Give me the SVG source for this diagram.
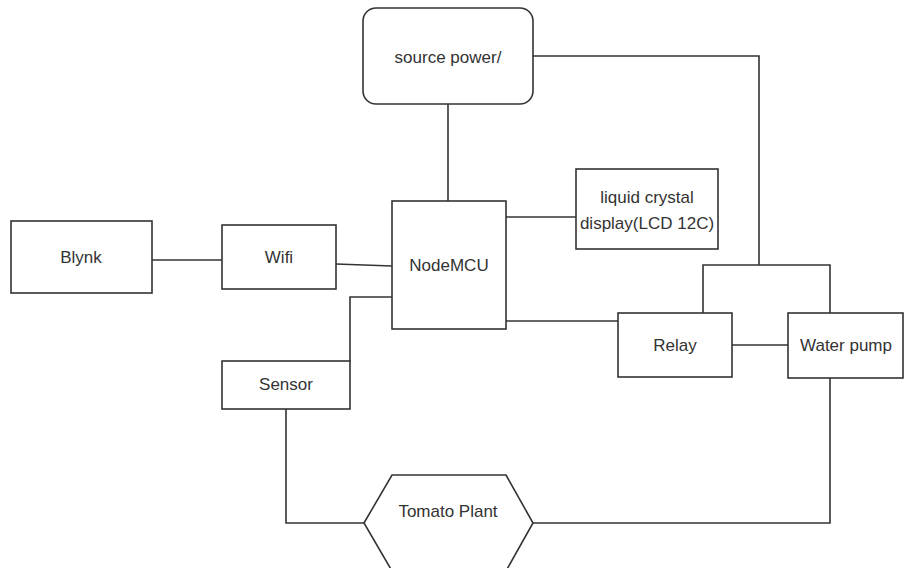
<svg xmlns="http://www.w3.org/2000/svg" width="905" height="568" viewBox="0 0 905 568">
<style>
.n{fill:#fff;stroke:#333;stroke-width:1.6}
.c{fill:none;stroke:#333;stroke-width:1.6}
text{font-family:"Liberation Sans",Arial,sans-serif;font-size:17px;fill:#333;text-anchor:middle;dominant-baseline:central}
</style>
<rect width="905" height="568" fill="#fff"/>
<g id="connectors">
<path class="c" d="M533 56 H759 V265"/>
<path class="c" d="M703 313 V265 H830 V313"/>
<path class="c" d="M448 104 V201"/>
<path class="c" d="M506 217 H576"/>
<path class="c" d="M152 260 H222"/>
<path class="c" d="M336 264 L392 266"/>
<path class="c" d="M392 297 H350 V361"/>
<path class="c" d="M506 321 H618"/>
<path class="c" d="M732 345 H788"/>
<path class="c" d="M286 409 V523 H364"/>
<path class="c" d="M533 523 H830 V378"/>
</g>
<g id="source-power"><rect class="n" x="363" y="8" width="170" height="96" rx="13"/><text x="448" y="57">source power/</text></g>
<g id="nodemcu"><rect class="n" x="392" y="201" width="114" height="128"/><text x="449" y="265">NodeMCU</text></g>
<g id="lcd"><rect class="n" x="576" y="169" width="142" height="80"/><text x="647" y="197">liquid crystal</text><text x="647" y="223">display(LCD 12C)</text></g>
<g id="blynk"><rect class="n" x="11" y="221" width="141" height="72"/><text x="81" y="257">Blynk</text></g>
<g id="wifi"><rect class="n" x="222" y="225" width="114" height="64"/><text x="279" y="257">Wifi</text></g>
<g id="sensor"><rect class="n" x="222" y="361" width="128" height="48"/><text x="286" y="384">Sensor</text></g>
<g id="relay"><rect class="n" x="618" y="313" width="114" height="64"/><text x="675" y="345">Relay</text></g>
<g id="water-pump"><rect class="n" x="788" y="313" width="115" height="65"/><text x="846" y="345">Water pump</text></g>
<g id="tomato-plant"><polygon class="n" points="364,523 392,475 506,475 533,523 506,571 392,571"/><text x="448" y="511">Tomato Plant</text></g>
</svg>
